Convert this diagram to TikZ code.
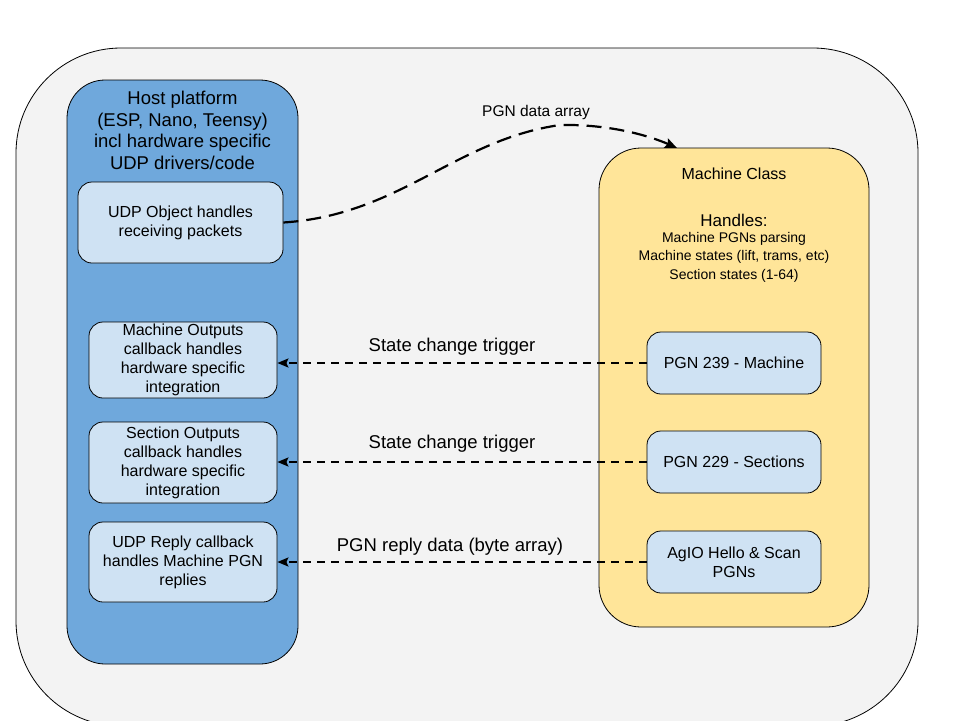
\documentclass[tikz,border=0pt]{standalone}
\usepackage{fontspec}
\setmainfont{Liberation Sans}
\usetikzlibrary{arrows.meta}
\definecolor{outerc}{HTML}{F3F3F3}
\definecolor{bluec}{HTML}{6FA8DC}
\definecolor{lightb}{HTML}{CFE2F3}
\definecolor{yellowc}{HTML}{FFE599}
\begin{document}
\begin{tikzpicture}[x=1pt,y=-1pt,
  box/.style={draw=black, line width=0.8pt, inner sep=0pt, align=center},
  inbox/.style={box, fill=lightb, rounded corners=14pt, font=\fontsize{16}{19}\selectfont},
  big/.style={font=\fontsize{18.5}{21.7}\selectfont, align=center, inner sep=0pt},
  lbl/.style={font=\fontsize{18.5}{21.7}\selectfont, inner sep=0pt},
  trig/.style={line width=1.8pt, dash pattern=on 8pt off 6pt, -{Stealth[length=11pt,width=9pt,inset=2pt]}}
]
\useasboundingbox (0,0) rectangle (960,720);
\fill[white] (0,0) rectangle (960,720);
% outer container
\node[box, fill=outerc, rounded corners=105pt, minimum width=902pt, minimum height=678pt] (outer) at (467,387) {};
% host platform
\node[box, fill=bluec, rounded corners=38pt, minimum width=231pt, minimum height=584pt] (host) at (182.5,372) {};
\node[big] (hosttitle) at (182.5,130.5) {Host platform\\(ESP, Nano, Teensy)\\incl hardware specific\\UDP drivers/code};
\node[inbox, minimum width=205pt, minimum height=81pt] (udp) at (180.5,222.5) {UDP Object handles\\receiving packets};
\node[inbox, minimum width=188pt, minimum height=76pt] (mo) at (183,360) {Machine Outputs\\callback handles\\hardware specific\\integration};
\node[inbox, minimum width=188pt, minimum height=81pt] (so) at (183,462.5) {Section Outputs\\callback handles\\hardware specific\\integration};
\node[inbox, minimum width=188pt, minimum height=80pt] (ur) at (183,562) {UDP Reply callback\\handles Machine PGN\\replies};
% machine class
\node[box, fill=yellowc, rounded corners=42pt, minimum width=270pt, minimum height=479pt] (mc) at (734,387.5) {};
\node[font=\fontsize{16}{19}\selectfont, inner sep=0pt] (mctitle) at (734,174) {Machine Class};
\node[font=\fontsize{17}{20}\selectfont, inner sep=0pt] (handles) at (734,220) {Handles:};
\node[font=\fontsize{14}{18.5}\selectfont, align=center, inner sep=0pt] (hdet) at (734,257) {Machine PGNs parsing\\Machine states (lift, trams, etc)\\Section states (1-64)};
\node[inbox, minimum width=174pt, minimum height=62pt] (p239) at (734,363) {PGN 239 - Machine};
\node[inbox, minimum width=174pt, minimum height=62pt] (p229) at (734,462) {PGN 229 - Sections};
\node[inbox, minimum width=174pt, minimum height=62pt] (agio) at (734,562) {AgIO Hello \& Scan\\PGNs};
% connectors
\draw[trig] (p239.west) -- (p239.west -| mo.east);
\draw[trig] (p229.west) -- (p229.west -| so.east);
\draw[trig] (agio.west) -- (agio.west -| ur.east);
\node[lbl] (l1) at (452,347) {State change trigger};
\node[lbl] (l2) at (452,444) {State change trigger};
\node[lbl] (l3) at (450,547) {PGN reply data (byte array)};
\coordinate (dataend) at (677,148);
\draw[line width=2.2pt, dash pattern=on 15pt off 8pt, -{Stealth[length=12pt,width=10pt,inset=2pt]}]
  (udp.east) .. controls (400,215) and (455,140) .. (560,125)
  .. controls (610,124) and (650,136) .. (dataend);
\node[font=\fontsize{15.5}{18}\selectfont, inner sep=0pt] (l4) at (536,112) {PGN data array};
\end{tikzpicture}
\end{document}
